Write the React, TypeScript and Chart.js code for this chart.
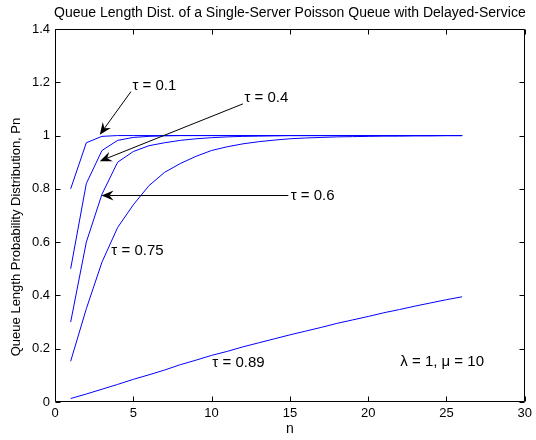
import React, { useEffect, useRef } from "react";
import { Chart, registerables } from "chart.js";

Chart.register(...registerables);

const nValues = [1, 2, 3, 4, 5, 6, 7, 8, 9, 10, 11, 12, 13, 14, 15, 16, 17, 18, 19, 20, 21, 22, 23, 24, 25, 26];
const tau01 = [0.8, 0.973, 0.997, 1, 1, 1, 1, 1, 1, 1, 1, 1, 1, 1, 1, 1, 1, 1, 1, 1, 1, 1, 1, 1, 1, 1];
const tau04 = [0.5, 0.82, 0.944, 0.982, 0.993, 0.997, 0.999, 1, 1, 1, 1, 1, 1, 1, 1, 1, 1, 1, 1, 1, 1, 1, 1, 1, 1, 1];
const tau06 = [0.3, 0.6, 0.78, 0.9, 0.94, 0.962, 0.973, 0.982, 0.988, 0.992, 0.995, 0.997, 0.998, 0.999, 1, 1, 1, 1, 1, 1, 1, 1, 1, 1, 1, 1];
const tau075 = [0.153, 0.35, 0.525, 0.655, 0.74, 0.812, 0.862, 0.895, 0.922, 0.944, 0.958, 0.969, 0.977, 0.983, 0.988, 0.991, 0.993, 0.995, 0.996, 0.997, 0.998, 0.998, 0.999, 0.999, 1, 1];
const tau089 = [0.013, 0.03, 0.048, 0.066, 0.085, 0.102, 0.12, 0.14, 0.157, 0.175, 0.19, 0.207, 0.222, 0.237, 0.252, 0.266, 0.28, 0.295, 0.308, 0.321, 0.335, 0.347, 0.36, 0.372, 0.384, 0.395];

const xTicks = [0, 5, 10, 15, 20, 25, 30];
const yTicks = [0, 0.2, 0.4, 0.6, 0.8, 1, 1.2, 1.4];

const titleText = "Queue Length Dist. of a Single-Server Poisson Queue with Delayed-Service";
const xTitle = "n";
const yTitle = "Queue Length Probability Distribution, Pn";

// annotation texts (data coordinates: left edge x, middle y) and arrows (from -> to)
const noteTexts = ["τ = 0.1", "τ = 0.4", "τ = 0.6", "τ = 0.75", "τ = 0.89", "λ = 1, μ = 10"];
const noteX = [4.95, 12.1, 15.05, 3.6, 10.05, 22.05];
const noteY = [1.187, 1.14, 0.774, 0.566, 0.146, 0.15];
const arrowFromX = [4.85, 12.0, 14.9];
const arrowFromY = [1.165, 1.119, 0.775];
const arrowToX = [2.86, 2.86, 2.97];
const arrowToY = [1.003, 0.904, 0.775];

const FONT = '"Liberation Sans", Arial, Helvetica, sans-serif';

const overlay = {
  id: "overlay",
  afterDraw(chart: any) {
    const { ctx, chartArea, scales } = chart;
    const { left, right, top, bottom } = chartArea;
    const xs = scales.x;
    const ys = scales.y;
    ctx.save();
    ctx.strokeStyle = "#000";
    ctx.lineWidth = 1;
    const L = Math.round(left) + 0.5;
    const R = Math.round(right) - 0.5;
    const T = Math.round(top) + 0.5;
    const B = Math.round(bottom) - 0.5;
    ctx.beginPath();
    ctx.rect(L, T, R - L, B - T);
    ctx.stroke();
    const tl = 5;
    ctx.beginPath();
    xTicks.forEach((v) => {
      const px = Math.round(xs.getPixelForValue(v)) + 0.5;
      ctx.moveTo(px, B);
      ctx.lineTo(px, B - tl);
      ctx.moveTo(px, T);
      ctx.lineTo(px, T + tl);
    });
    yTicks.forEach((v) => {
      const py = Math.round(ys.getPixelForValue(v)) + 0.5;
      ctx.moveTo(L, py);
      ctx.lineTo(L + tl, py);
      ctx.moveTo(R, py);
      ctx.lineTo(R - tl, py);
    });
    ctx.stroke();

    // titles
    ctx.fillStyle = "#000";
    ctx.font = `14px ${FONT}`;
    ctx.textAlign = "center";
    ctx.textBaseline = "middle";
    ctx.fillText(titleText, (left + right) / 2, 13);
    ctx.fillText(xTitle, (left + right) / 2, 429);
    ctx.save();
    ctx.font = `13px ${FONT}`;
    ctx.translate(16, 237);
    ctx.rotate(-Math.PI / 2);
    ctx.fillText(yTitle, 0, 0);
    ctx.restore();

    // annotations
    ctx.font = `15px ${FONT}`;
    ctx.textAlign = "left";
    noteTexts.forEach((t, i) => {
      ctx.fillText(t, xs.getPixelForValue(noteX[i]), ys.getPixelForValue(noteY[i]));
    });
    arrowFromX.forEach((fx, i) => {
      const x1 = xs.getPixelForValue(fx);
      const y1 = ys.getPixelForValue(arrowFromY[i]);
      const x2 = xs.getPixelForValue(arrowToX[i]);
      const y2 = ys.getPixelForValue(arrowToY[i]);
      const ang = Math.atan2(y2 - y1, x2 - x1);
      const hl = 12;
      const hw = 5;
      const back = 8;
      ctx.beginPath();
      ctx.moveTo(x1, y1);
      ctx.lineTo(x2 - Math.cos(ang) * back, y2 - Math.sin(ang) * back);
      ctx.stroke();
      const bx = x2 - Math.cos(ang) * hl;
      const by = y2 - Math.sin(ang) * hl;
      const nx = -Math.sin(ang);
      const ny = Math.cos(ang);
      const mx = x2 - Math.cos(ang) * back;
      const my = y2 - Math.sin(ang) * back;
      ctx.beginPath();
      ctx.moveTo(x2, y2);
      ctx.lineTo(bx + nx * hw, by + ny * hw);
      ctx.lineTo(mx, my);
      ctx.lineTo(bx - nx * hw, by - ny * hw);
      ctx.closePath();
      ctx.fill();
    });
    ctx.restore();
  },
};

export default function App() {
  const ref = useRef<HTMLCanvasElement | null>(null);
  useEffect(() => {
    document.body.style.margin = "0";
    const canvas = ref.current;
    if (!canvas) return;
    const series = [tau01, tau04, tau06, tau075, tau089];
    const chart = new Chart(canvas, {
      type: "line",
      data: {
        datasets: series.map((s, i) => ({
          label: `s${i}`,
          data: nValues.map((n, j) => ({ x: n, y: s[j] })),
          borderColor: "#0000ff",
          borderWidth: 1,
          pointRadius: 0,
          fill: false,
          tension: 0,
        })),
      },
      options: {
        responsive: false,
        animation: false,
        devicePixelRatio: 1,
        layout: { padding: { left: 0, top: 29, right: 9, bottom: 0 } },
        plugins: { legend: { display: false }, tooltip: { enabled: false }, title: { display: false } },
        scales: {
          x: {
            type: "linear",
            min: 0,
            max: 30,
            afterFit: (s: any) => {
              s.height = 38;
            },
            afterBuildTicks: (s: any) => {
              s.ticks = xTicks.map((v) => ({ value: v }));
            },
            grid: { display: false, drawTicks: false },
            border: { display: false },
            ticks: {
              padding: 4,
              color: "#000",
              font: { family: FONT, size: 13 },
              callback: (v: any) => String(v),
              maxRotation: 0,
            },
          },
          y: {
            type: "linear",
            min: 0,
            max: 1.4,
            afterFit: (s: any) => {
              s.width = 55;
            },
            afterBuildTicks: (s: any) => {
              s.ticks = yTicks.map((v) => ({ value: v }));
            },
            grid: { display: false, drawTicks: false },
            border: { display: false },
            ticks: {
              padding: 5,
              color: "#000",
              font: { family: FONT, size: 13 },
              callback: (v: any) => String(Math.round(Number(v) * 10) / 10),
            },
          },
        },
      },
      plugins: [overlay],
    });
    return () => chart.destroy();
  }, []);
  return (
    <div style={{ position: "absolute", left: 0, top: 0, width: 536, height: 440, background: "#fff" }}>
      <canvas ref={ref} width={536} height={440} style={{ display: "block" }} />
    </div>
  );
}
